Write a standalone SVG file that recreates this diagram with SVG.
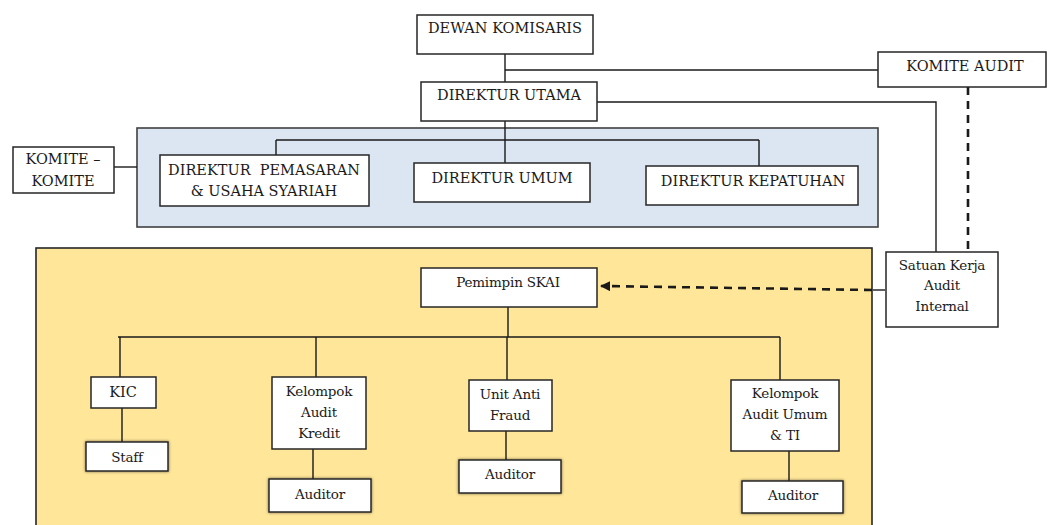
<svg xmlns="http://www.w3.org/2000/svg" width="1053" height="525" viewBox="0 0 1053 525">
  <style>
    .box { fill: #ffffff; stroke: #262626; stroke-width: 1.5; }
    .panel-blue { fill: #dce6f2; stroke: #404040; stroke-width: 1.6; }
    .panel-gold { fill: #ffe699; stroke: #262626; stroke-width: 1.6; }
    .lbl { font-family: 'DejaVu Serif', 'Liberation Serif', serif; font-size: 14.5px; fill: #1a1a1a; text-anchor: middle; }
    .mix { font-size: 13.5px; letter-spacing: -0.2px; }
    .wire { fill: none; stroke: #1a1a1a; stroke-width: 1.4; }
    .dash { fill: none; stroke: #1a1a1a; stroke-width: 2.6; stroke-dasharray: 8 6; }
  </style>
  <defs>
    <filter id="soft" x="-20%" y="-30%" width="140%" height="160%">
      <feDropShadow dx="0" dy="0" stdDeviation="1.6" flood-color="#000000" flood-opacity="0.55"/>
    </filter>
    <marker id="head" viewBox="0 0 10 10" refX="9" refY="5" markerWidth="4" markerHeight="4" orient="auto-start-reverse">
      <path d="M0,0 L10,5 L0,10 z" fill="#1a1a1a"/>
    </marker>
  </defs>

  <!-- background panels: board of directors band and internal audit band -->
  <rect class="panel-blue" x="137" y="128" width="741" height="99"/>
  <rect class="panel-gold" x="36" y="248" width="836" height="290"/>

  <!-- connectors -->
  <g id="connectors">
    <!-- board to president director, and on to the directors' bar -->
    <path class="wire" d="M505,54 V82 M505,121 V140"/>
    <path class="wire" d="M505,70 H878"/>
    <path class="wire" d="M597,102 H936 V252"/>
    <path class="dash" d="M968,87 V252"/>
    <path class="wire" d="M276,140 H759 M276,140 V155 M505,140 V163 M759,140 V166"/>
    <path class="wire" d="M114,167 H137"/>
    <!-- internal audit unit to head of SKAI -->
    <path class="wire" d="M873,290 H885" stroke-width="2.4"/>
    <path class="dash" d="M872,290 L601,286" marker-end="url(#head)"/>
    <!-- SKAI tree -->
    <path class="wire" d="M508,307 V337 M118,337 H780"/>
    <path class="wire" d="M120,337 V377 M316,337 V377 M507,337 V380 M780,337 V380"/>
    <path class="wire" d="M122,408 V442 M313,449 V479 M506,431 V460 M789,451 V481"/>
  </g>

  <g id="dewan-komisaris">
    <rect class="box" x="417" y="15" width="176" height="39"/>
    <text class="lbl" x="505" y="33">DEWAN KOMISARIS</text>
  </g>
  <g id="komite-audit">
    <rect class="box" x="878" y="52" width="168" height="35"/>
    <text class="lbl" x="965" y="71">KOMITE AUDIT</text>
  </g>
  <g id="direktur-utama">
    <rect class="box" x="421" y="82" width="176" height="39"/>
    <text class="lbl" x="509" y="100">DIREKTUR UTAMA</text>
  </g>
  <g id="komite-komite">
    <rect class="box" x="13" y="147" width="101" height="46"/>
    <text class="lbl" x="63" y="164">KOMITE –</text>
    <text class="lbl" x="63" y="186">KOMITE</text>
  </g>
  <g id="direktur-pemasaran">
    <rect class="box" x="160" y="155" width="209" height="51"/>
    <text class="lbl" x="264" y="175" xml:space="preserve">DIREKTUR  PEMASARAN</text>
    <text class="lbl" x="264" y="196">&amp; USAHA SYARIAH</text>
  </g>
  <g id="direktur-umum">
    <rect class="box" x="414" y="163" width="176" height="39"/>
    <text class="lbl" x="502" y="183">DIREKTUR UMUM</text>
  </g>
  <g id="direktur-kepatuhan">
    <rect class="box" x="646" y="166" width="212" height="39"/>
    <text class="lbl" x="753" y="186">DIREKTUR KEPATUHAN</text>
  </g>
  <g id="satuan-kerja-audit-internal">
    <rect class="box" x="886" y="252" width="112" height="75"/>
    <text class="lbl mix" x="942" y="270">Satuan Kerja</text>
    <text class="lbl mix" x="942" y="290">Audit</text>
    <text class="lbl mix" x="942" y="311">Internal</text>
  </g>
  <g id="pemimpin-skai">
    <rect class="box" x="421" y="268" width="176" height="39"/>
    <text class="lbl mix" x="508" y="287">Pemimpin SKAI</text>
  </g>
  <g id="kic">
    <rect class="box" x="91" y="377" width="65" height="31"/>
    <text class="lbl" x="123" y="397">KIC</text>
  </g>
  <g id="staff">
    <rect class="box" x="86" y="442" width="82" height="29" filter="url(#soft)"/>
    <text class="lbl mix" x="127" y="462">Staff</text>
  </g>
  <g id="kelompok-audit-kredit">
    <rect class="box" x="272" y="377" width="94" height="72"/>
    <text class="lbl mix" x="319" y="396">Kelompok</text>
    <text class="lbl mix" x="319" y="417">Audit</text>
    <text class="lbl mix" x="319" y="438">Kredit</text>
  </g>
  <g id="auditor-kredit">
    <rect class="box" x="269" y="479" width="102" height="33" filter="url(#soft)"/>
    <text class="lbl mix" x="320" y="499">Auditor</text>
  </g>
  <g id="unit-anti-fraud">
    <rect class="box" x="469" y="380" width="83" height="51"/>
    <text class="lbl mix" x="510" y="399">Unit Anti</text>
    <text class="lbl mix" x="510" y="420">Fraud</text>
  </g>
  <g id="auditor-fraud">
    <rect class="box" x="459" y="460" width="102" height="33" filter="url(#soft)"/>
    <text class="lbl mix" x="510" y="479">Auditor</text>
  </g>
  <g id="kelompok-audit-umum-ti">
    <rect class="box" x="731" y="380" width="108" height="71"/>
    <text class="lbl mix" x="785" y="398">Kelompok</text>
    <text class="lbl mix" x="785" y="419">Audit Umum</text>
    <text class="lbl mix" x="785" y="440">&amp; TI</text>
  </g>
  <g id="auditor-umum-ti">
    <rect class="box" x="742" y="481" width="101" height="32" filter="url(#soft)"/>
    <text class="lbl mix" x="793" y="500">Auditor</text>
  </g>
</svg>
